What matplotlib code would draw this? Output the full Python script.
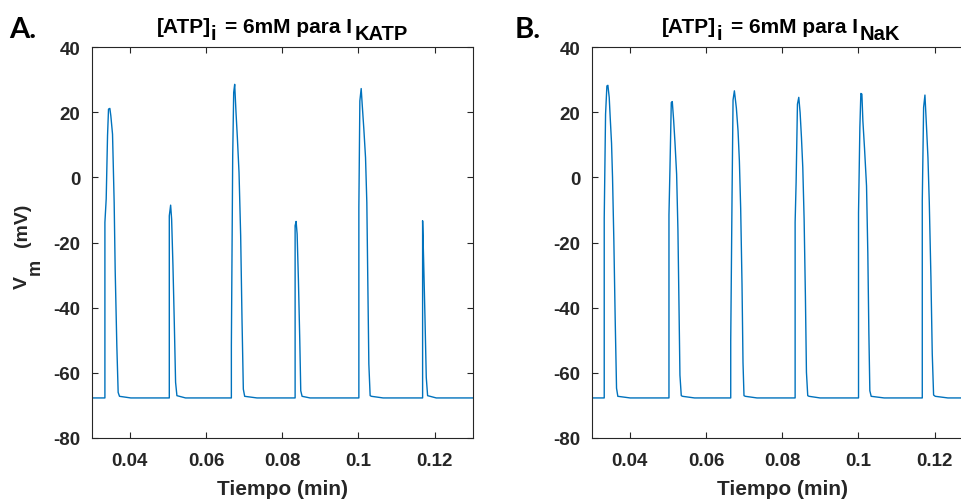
import matplotlib
matplotlib.use("Agg")
import matplotlib.pyplot as plt

plt.rcParams.update({
    "font.family": ["Liberation Sans", "DejaVu Sans"],
    "font.weight": "bold",
})

# membrane potential traces (min, mV)
t_katp = [0.0300, 0.03347, 0.03347, 0.03381, 0.03416, 0.03442, 0.03477, 0.03503,
          0.03547, 0.03564, 0.03590, 0.03617, 0.03660, 0.03695, 0.03730, 0.04026,
          0.05037, 0.05037, 0.05072, 0.05098, 0.05133, 0.05168, 0.05202, 0.05237,
          0.05464,
          0.06666, 0.06666, 0.06701, 0.06727, 0.06753, 0.06788, 0.06823, 0.06867,
          0.06910, 0.06945, 0.06980, 0.07015, 0.07338,
          0.08339, 0.08339, 0.08365, 0.08392, 0.08426, 0.08461, 0.08487, 0.08522,
          0.08731,
          0.10012, 0.10012, 0.10038, 0.10073, 0.10099, 0.10143, 0.10187, 0.10221,
          0.10247, 0.10274, 0.10308, 0.10343, 0.10648,
          0.11685, 0.11685, 0.11711, 0.11746, 0.11781, 0.11816, 0.12043, 0.1300]
v_katp = [-67.7, -67.7, -13.8, -6.6, 12.8, 21.0, 21.2, 18.9,
          13.3, 5.1, -7.7, -28.6, -51.7, -66.0, -67.2, -67.7,
          -67.7, -11.8, -8.5, -12.8, -27.1, -44.5, -62.9, -67.0,
          -67.7,
          -67.7, -51.7, 6.6, 26.1, 28.6, 19.9, 12.3, 1.5,
          -17.9, -43.5, -65.0, -67.2, -67.7,
          -67.7, -14.8, -13.5, -17.4, -31.7, -49.8, -65.5, -67.2,
          -67.7,
          -67.7, -9.2, 23.5, 27.3, 22.5, 14.8, 6.1, -7.7,
          -32.2, -57.3, -67.0, -67.2, -67.7,
          -67.7, -13.3, -25.1, -42.5, -61.4, -67.0, -67.7, -67.7]

t_nak = [0.0300, 0.03329, 0.03329, 0.03364, 0.03399, 0.03425, 0.03460, 0.03486,
         0.03521, 0.03547, 0.03582, 0.03617, 0.03652, 0.03686, 0.04009,
         0.05028, 0.05028, 0.05054, 0.05089, 0.05115, 0.05150, 0.05185, 0.05229,
         0.05263, 0.05290, 0.05316, 0.05351, 0.05385, 0.05699,
         0.06649, 0.06649, 0.06684, 0.06710, 0.06745, 0.06797, 0.06841, 0.06876,
         0.06910, 0.06945, 0.06971, 0.06997, 0.07032, 0.07338,
         0.08339, 0.08339, 0.08365, 0.08400, 0.08435, 0.08470, 0.08505, 0.08540,
         0.08575, 0.08609, 0.08636, 0.08670, 0.08705, 0.08993,
         0.10003, 0.10003, 0.10038, 0.10064, 0.10091, 0.10117, 0.10160, 0.10213,
         0.10247, 0.10274, 0.10300, 0.10335, 0.10675,
         0.11676, 0.11676, 0.11711, 0.11746, 0.11790, 0.11825, 0.11860, 0.11903,
         0.11938, 0.11973, 0.12017, 0.12348, 0.1300]
v_nak = [-67.7, -67.7, -12.6, 19.4, 28.1, 28.3, 24.6, 18.4,
         10.5, 0.0, -19.6, -43.7, -64.7, -67.2, -67.7,
         -67.7, -11.5, 2.6, 23.0, 23.3, 17.7, 10.9, 1.0,
         -15.9, -38.4, -60.7, -67.0, -67.2, -67.7,
         -67.7, -50.1, -5.1, 23.8, 26.6, 21.3, 14.3, 5.1,
         -9.5, -32.7, -56.8, -67.0, -67.2, -67.7,
         -67.7, -13.8, -1.5, 22.5, 24.6, 19.9, 12.3, 3.1,
         -12.8, -36.6, -59.8, -67.0, -67.2, -67.7,
         -67.7, -10.9, 15.3, 25.8, 25.6, 17.4, 9.0, -2.6,
         -23.3, -47.6, -65.5, -67.2, -67.7,
         -67.7, -7.2, 21.5, 25.3, 14.8, 6.1, -7.7, -30.7,
         -54.2, -66.8, -67.2, -67.7, -67.7]

xticks = [0.04, 0.06, 0.08, 0.1, 0.12]
xtick_labels = ["0.04", "0.06", "0.08", "0.1", "0.12"]
yticks = [-80, -60, -40, -20, 0, 20, 40]
ytick_labels = ["-80", "-60", "-40", "-20", "0", "20", "40"]

# MATLAB-style titles: (text, is_subscript)
title_a = [("[ATP]", False), ("i", True), ("= 6mM para I", False), ("KATP", True)]
title_b = [("[ATP]", False), ("i", True), ("= 6mM para I", False), ("NaK", True)]
ylabel_parts = [("V", False), ("m", True), ("(mV)", False)]
letters = ["A.", "B."]

W, H = 961, 502
fig = plt.figure(figsize=(W / 100, H / 100), dpi=100)
ax_a = fig.add_axes([0.0954, 0.1255, 0.3965, 0.7785])
ax_b = fig.add_axes([0.6157, 0.1255, 0.3965, 0.7785])

for ax, t, v in [(ax_a, t_katp, v_katp), (ax_b, t_nak, v_nak)]:
    ax.plot(t, v, color="#0072BD", lw=1.0)
    ax.set_xlim(0.03, 0.13)
    ax.set_ylim(-80, 40)
    ax.set_xticks(xticks)
    ax.set_xticklabels(xtick_labels)
    ax.set_yticks(yticks)
    ax.set_yticklabels(ytick_labels)
    ax.tick_params(direction="in", length=4, width=0.8, top=True, right=True,
                   labelsize=13.5, colors="#262626", pad=8)
    ax.tick_params(axis="x", pad=10)
    for s in ax.spines.values():
        s.set_color("#262626")
        s.set_linewidth(0.8)
    for lab in ax.get_xticklabels() + ax.get_yticklabels():
        lab.set_fontweight("bold")
    ax.set_xlabel("Tiempo (min)", fontsize=15, fontweight="bold",
                  color="#262626", labelpad=7)

renderer = fig.canvas.get_renderer()


def rich_text(parts, anchor, size, sub_size, sub_shift, gaps, vertical=False,
              color="black"):
    """Lay out text pieces with same-size, lowered subscripts (pixel coords,
    origin top-left). anchor = (centre along text, baseline)."""
    items = []
    for (s, sub), gap in zip(parts, gaps):
        fs = sub_size if sub else size
        txt = fig.text(0, 0, s, fontsize=fs, fontweight="bold", color=color,
                       ha="left", va="baseline", rotation_mode="anchor")
        w = txt.get_window_extent(renderer).width
        items.append((txt, w, sub, gap))
    total = sum(w + g for _, w, _, g in items) - items[-1][3]
    cur = -total / 2
    for txt, w, sub, gap in items:
        shift = sub_shift if sub else 0
        if vertical:
            px = anchor[1] + shift
            py = anchor[0] - cur
            txt.set_rotation(90)
        else:
            px = anchor[0] + cur
            py = anchor[1] + shift
        txt.set_position((px / W, 1 - py / H))
        cur += w + gap


rich_text(title_a, (282.0, 33.0), 15, 14.5, 7.0, [0, 9, 2, 0])
rich_text(title_b, (781.0, 33.0), 15, 14.5, 7.0, [0, 9, 2, 0])
rich_text(ylabel_parts, (246.0, 27.0), 14, 13, 13.0, [1, 12, 0],
          vertical=True, color="#262626")

fig.text(0.010, 0.925, letters[0], fontsize=21, fontweight="bold",
         family=["Lato", "DejaVu Sans"], color="black")
fig.text(0.535, 0.925, letters[1], fontsize=21, fontweight="bold",
         family=["Lato", "DejaVu Sans"], color="black")

fig.savefig("out.png", dpi=100)
